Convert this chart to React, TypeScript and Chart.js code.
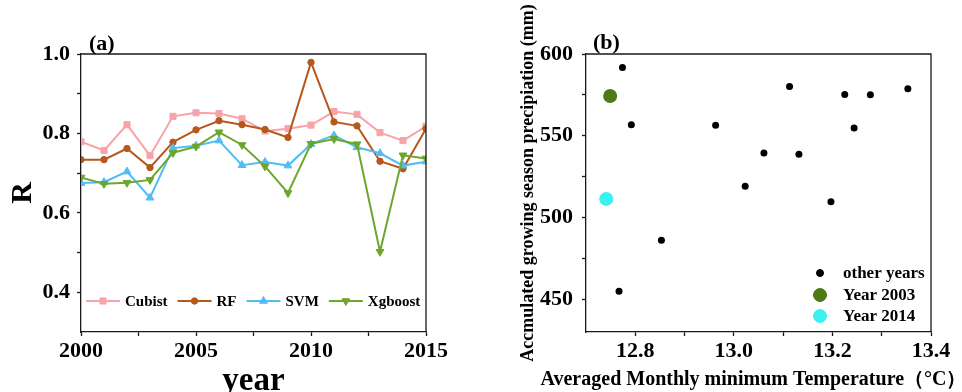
import React, { useEffect, useRef } from 'react';
import { Chart, registerables } from 'chart.js';
Chart.register(...registerables);

// ---------- Data: panel (a) ----------
const years = [2000, 2001, 2002, 2003, 2004, 2005, 2006, 2007, 2008, 2009, 2010, 2011, 2012, 2013, 2014, 2015];
const cubist = [0.779, 0.757, 0.822, 0.744, 0.843, 0.852, 0.850, 0.837, 0.806, 0.812, 0.821, 0.855, 0.848, 0.802, 0.782, 0.818];
const rf = [0.734, 0.734, 0.762, 0.714, 0.778, 0.809, 0.832, 0.822, 0.810, 0.790, 0.979, 0.829, 0.819, 0.730, 0.711, 0.812];
const svm = [0.675, 0.677, 0.704, 0.638, 0.763, 0.769, 0.782, 0.720, 0.728, 0.719, 0.773, 0.795, 0.765, 0.750, 0.719, 0.729];
const xgboost = [0.689, 0.673, 0.676, 0.683, 0.751, 0.767, 0.803, 0.771, 0.717, 0.650, 0.774, 0.786, 0.773, 0.502, 0.745, 0.737];
const rMajorTicks = [0.4, 0.6, 0.8, 1.0];
const rMinorTicks = [0.5, 0.7, 0.9];
const yearMajorTicks = [2000, 2005, 2010, 2015];
const yearMinorTicks = [2002.5, 2007.5, 2012.5];

// ---------- Data: panel (b) ----------
const tempOther = [12.774, 12.792, 12.853, 12.767, 12.963, 13.023, 13.061, 13.113, 13.132, 13.197, 13.225, 13.244, 13.277, 13.353];
const precipOther = [591.8, 556.8, 486.1, 454.9, 556.4, 519.1, 539.5, 580.2, 538.7, 509.6, 575.3, 554.8, 575.1, 578.8];
const temp2003 = [12.749];
const precip2003 = [574.3];
const temp2014 = [12.741];
const precip2014 = [511.4];
const tempMajorTicks = [12.8, 13.0, 13.2, 13.4];
const tempMinorTicks = [12.9, 13.1, 13.3];
const precipMajorTicks = [450, 500, 550, 600];
const precipMinorTicks = [475, 525, 575];

const FONT = "'Liberation Serif', 'Times New Roman', serif";
const AXIS = '#1a1a1a';

function drawMarker(ctx: CanvasRenderingContext2D, style: string, x: number, y: number, r: number, rot: number, color: string) {
  ctx.save();
  ctx.fillStyle = color;
  ctx.strokeStyle = color;
  ctx.lineWidth = 1;
  ctx.translate(x, y);
  ctx.rotate((rot * Math.PI) / 180);
  ctx.beginPath();
  if (style === 'rect') {
    const s = Math.SQRT1_2 * r;
    ctx.rect(-s, -s, 2 * s, 2 * s);
  } else if (style === 'triangle') {
    const a = Math.PI / 2;
    for (let k = 0; k < 3; k++) {
      const ang = -a + (k * 2 * Math.PI) / 3;
      const px = Math.cos(ang) * r;
      const py = Math.sin(ang) * r;
      if (k === 0) ctx.moveTo(px, py); else ctx.lineTo(px, py);
    }
    ctx.closePath();
  } else {
    ctx.arc(0, 0, r, 0, Math.PI * 2);
  }
  ctx.fill();
  ctx.stroke();
  ctx.restore();
}

function text(ctx: CanvasRenderingContext2D, t: string, x: number, y: number, font: string, align: CanvasTextAlign, baseline: CanvasTextBaseline, rot = 0) {
  ctx.save();
  ctx.font = font;
  ctx.fillStyle = '#000';
  ctx.textAlign = align;
  ctx.textBaseline = baseline;
  ctx.translate(x, y);
  if (rot) ctx.rotate(rot);
  ctx.fillText(t, 0, 0);
  ctx.restore();
}

function frame(chart: any) {
  const { ctx, chartArea: a } = chart;
  ctx.save();
  ctx.strokeStyle = AXIS;
  ctx.lineWidth = 1.3;
  ctx.beginPath();
  ctx.moveTo(a.left, a.top);
  ctx.lineTo(a.right, a.top);
  ctx.lineTo(a.right, a.bottom);
  ctx.stroke();
  ctx.restore();
}

const seriesA = [
  { label: 'Cubist', data: cubist, color: '#F8A3AA', style: 'rect', r: 4.3, rot: 0, order: 3 },
  { label: 'RF', data: rf, color: '#B6581C', style: 'circle', r: 3.2, rot: 0, order: 2 },
  { label: 'SVM', data: svm, color: '#52BDF4', style: 'triangle', r: 4.5, rot: 0, order: 1 },
  { label: 'Xgboost', data: xgboost, color: '#6CA62A', style: 'triangle', r: 4.5, rot: 180, order: 0 },
];

const seriesB = [
  { label: 'other years', xs: tempOther, ys: precipOther, color: '#000000', r: 3.5 },
  { label: 'Year 2003', xs: temp2003, ys: precip2003, color: '#4E7A16', r: 7 },
  { label: 'Year 2014', xs: temp2014, ys: precip2014, color: '#3CF0F2', r: 7 },
];

function tickSetter(major: number[], minor: number[]) {
  return (scale: any) => {
    scale.ticks = [...major, ...minor].sort((p, q) => p - q).map((v) => ({ value: v }));
  };
}

function axisCommon(major: number[], minor: number[], size: number, pad: number, fmt: (v: number) => string, fitKey: 'width' | 'height', fitVal: number) {
  return {
    type: 'linear' as const,
    afterBuildTicks: tickSetter(major, minor),
    afterFit: (s: any) => { s[fitKey] = fitVal; },
    grid: { display: true, drawOnChartArea: false, drawTicks: true, tickLength: 4, tickColor: AXIS, tickWidth: 1.3 },
    border: { display: true, color: AXIS, width: 1.3 },
    ticks: {
      autoSkip: false,
      maxRotation: 0,
      padding: pad,
      color: '#000',
      font: { family: FONT, size, weight: 'bold' as const },
      callback: (v: any) => (major.includes(v) ? fmt(v) : ''),
    },
  };
}

export default function App() {
  const refA = useRef<HTMLCanvasElement>(null);
  const refB = useRef<HTMLCanvasElement>(null);

  useEffect(() => {
    const pluginA = {
      id: 'decorA',
      afterDraw(chart: any) {
        const { ctx, chartArea: a } = chart;
        frame(chart);
        text(ctx, '(a)', a.left + 8, a.top - 4, `bold 22px ${FONT}`, 'left', 'alphabetic');
        text(ctx, 'R', 23, (a.top + a.bottom) / 2, `bold 30px ${FONT}`, 'center', 'middle', -Math.PI / 2);
        text(ctx, 'year', (a.left + a.right) / 2, 390, `bold 33px ${FONT}`, 'center', 'alphabetic');
        // legend inside plot
        const ly = a.bottom - 31;
        let x = a.left + 5;
        ctx.save();
        ctx.font = `bold 15px ${FONT}`;
        for (const s of seriesA) {
          ctx.strokeStyle = s.color;
          ctx.lineWidth = 2;
          ctx.beginPath();
          ctx.moveTo(x, ly);
          ctx.lineTo(x + 34, ly);
          ctx.stroke();
          drawMarker(ctx, s.style, x + 17, ly, s.r, s.rot, s.color);
          text(ctx, s.label, x + 39, ly + 1, `bold 15px ${FONT}`, 'left', 'middle');
          x += 39 + ctx.measureText(s.label).width + 10;
        }
        ctx.restore();
      },
    };

    const chartA = new Chart(refA.current as HTMLCanvasElement, {
      type: 'line',
      data: {
        datasets: seriesA.map((s) => ({
          label: s.label,
          data: years.map((yr, i) => ({ x: yr, y: s.data[i] })),
          borderColor: s.color,
          backgroundColor: s.color,
          pointBackgroundColor: s.color,
          pointBorderColor: s.color,
          pointStyle: s.style as any,
          pointRadius: s.r,
          pointRotation: s.rot,
          pointBorderWidth: 1,
          borderWidth: 2,
          tension: 0,
          order: s.order,
        })),
      },
      options: {
        responsive: false,
        animation: false,
        layout: { padding: { left: 0, top: 54, right: 44, bottom: 0 } },
        plugins: { legend: { display: false }, tooltip: { enabled: false } },
        scales: {
          x: { ...axisCommon(yearMajorTicks, yearMinorTicks, 22, 2, (v) => String(v), 'height', 60), min: 2000, max: 2015 },
          y: { ...axisCommon(rMajorTicks, rMinorTicks, 22, 7, (v) => v.toFixed(1), 'width', 81), min: 0.3, max: 1.0 },
        } as any,
      },
      plugins: [pluginA],
    });

    const pluginB = {
      id: 'decorB',
      afterDraw(chart: any) {
        const { ctx, chartArea: a } = chart;
        frame(chart);
        text(ctx, '(b)', a.left + 7, a.top - 5, `bold 22px ${FONT}`, 'left', 'alphabetic');
        text(ctx, 'Accmulated growing season precipiation (mm)', 48, (a.top + a.bottom) / 2 - 10, `bold 18px ${FONT}`, 'center', 'middle', -Math.PI / 2);
        text(ctx, 'Averaged Monthly minimum Temperature（°C）', (a.left + a.right) / 2 - 5, 385, `bold 20px ${FONT}`, 'center', 'alphabetic');
        const offs = [59, 37, 16];
        seriesB.forEach((s, i) => {
          const y = a.bottom - offs[i];
          drawMarker(ctx, 'circle', a.right - 111, y, s.r === 7 ? 6.5 : 3.5, 0, s.color);
          text(ctx, s.label, a.right - 88, y + 1, `bold 17px ${FONT}`, 'left', 'middle');
        });
      },
    };

    const chartB = new Chart(refB.current as HTMLCanvasElement, {
      type: 'scatter',
      data: {
        datasets: seriesB.map((s) => ({
          label: s.label,
          data: s.xs.map((xv, i) => ({ x: xv, y: s.ys[i] })),
          backgroundColor: s.color,
          borderColor: s.color,
          pointRadius: s.r,
          pointBorderWidth: 0,
        })),
      },
      options: {
        responsive: false,
        animation: false,
        layout: { padding: { left: 0, top: 54, right: 31, bottom: 0 } },
        plugins: { legend: { display: false }, tooltip: { enabled: false } },
        scales: {
          x: { ...axisCommon(tempMajorTicks, tempMinorTicks, 22, 2, (v) => v.toFixed(1), 'height', 60), min: 12.7, max: 13.4 },
          y: { ...axisCommon(precipMajorTicks, precipMinorTicks, 22, 9, (v) => String(v), 'width', 106), min: 430, max: 600 },
        } as any,
      },
      plugins: [pluginB],
    });

    return () => {
      chartA.destroy();
      chartB.destroy();
    };
  }, []);

  return (
    <div style={{ position: 'absolute', left: 0, top: 0, width: 962, height: 392, background: '#fff', overflow: 'hidden' }}>
      <canvas ref={refA} width={470} height={392} style={{ position: 'absolute', left: 0, top: 0, width: 470, height: 392 }} />
      <canvas ref={refB} width={482} height={392} style={{ position: 'absolute', left: 480, top: 0, width: 482, height: 392 }} />
    </div>
  );
}
